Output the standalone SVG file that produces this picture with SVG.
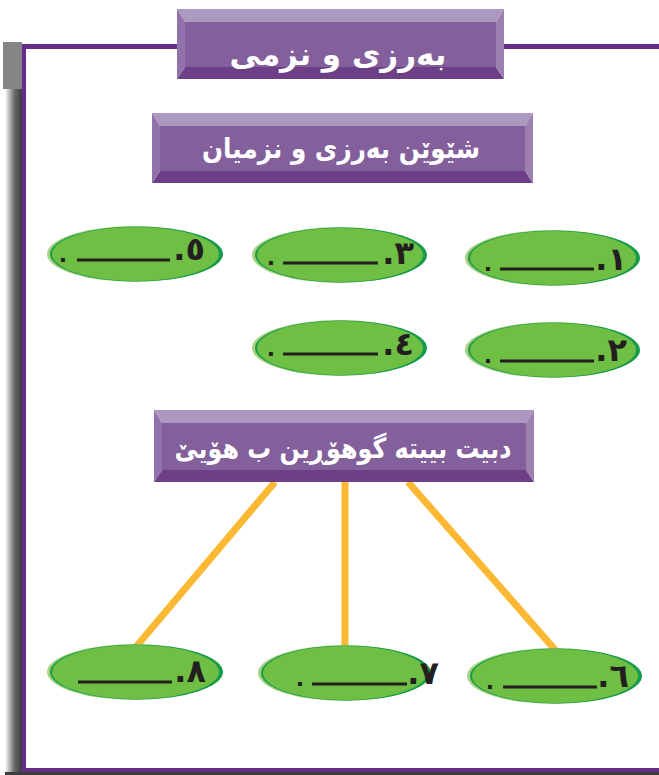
<svg xmlns="http://www.w3.org/2000/svg" width="659" height="775" viewBox="0 0 659 775">
<defs>
<linearGradient id="shadow" x1="0" y1="0" x2="1" y2="0">
<stop offset="0" stop-color="#ffffff"/>
<stop offset="0.55" stop-color="#6a6a6a"/>
<stop offset="1" stop-color="#3c3c3c"/>
</linearGradient>
</defs>
<style>
.title{font-family:"DejaVu Sans",sans-serif;font-weight:bold;fill:#ffffff;text-anchor:middle;direction:rtl}
.num{font-family:"DejaVu Sans",sans-serif;font-weight:bold;fill:#231f20;font-size:32px;direction:rtl;text-anchor:start}
.dot{font-family:"DejaVu Sans",sans-serif;font-weight:bold;fill:#231f20;font-size:22px;text-anchor:middle}
.blank{stroke:#231f20;stroke-width:3.2}
.bt{fill:#ad98c0}.bm{fill:#835f9c}.bb{fill:#6c3f86}.bl{fill:#9272aa}.br{fill:#9b80b0}
.e1{fill:#a7d281}.e2{fill:#159b49}.e3{fill:#6fbf45}
.conn{stroke:#fbb832;stroke-width:7;fill:none}
.frame{fill:#662d8b}
</style>
<g id="frame">
<rect x="5" y="88" width="17" height="687" fill="url(#shadow)"/>
<rect x="5" y="772" width="654" height="3" fill="#3c3c3c"/>
<rect x="3" y="42" width="19" height="47" fill="#858585"/>
<rect class="frame" x="22" y="44" width="637" height="5"/>
<rect class="frame" x="22" y="44" width="4" height="728"/>
<rect class="frame" x="22" y="768" width="637" height="4"/>
</g>
<g id="connectors">
<line class="conn" x1="275" y1="482" x2="135" y2="648"/>
<line class="conn" x1="345" y1="482" x2="345" y2="648"/>
<line class="conn" x1="408" y1="482" x2="557" y2="652"/>
</g>
<g id="title-main">
<polygon class="bt" points="177,9 504,9 496,22 185,22"/>
<polygon class="bb" points="177,79 504,79 496,67 185,67"/>
<polygon class="bl" points="177,9 185,22 185,67 177,79"/>
<polygon class="br" points="504,9 496,22 496,67 504,79"/>
<rect class="bm" x="185" y="22" width="311" height="45"/>
<text class="title" x="338" y="65" font-size="31">بەرزی  و نزمی</text>
</g>
<g id="title-types">
<polygon class="bt" points="152,113 533,113 525,126 160,126"/>
<polygon class="bb" points="152,183 533,183 525,171 160,171"/>
<polygon class="bl" points="152,113 160,126 160,171 152,183"/>
<polygon class="br" points="533,113 525,126 525,171 533,183"/>
<rect class="bm" x="160" y="126" width="365" height="45"/>
<text class="title" x="341" y="158" font-size="28" textLength="278" lengthAdjust="spacingAndGlyphs">شێوێن بەرزی و نزمیان</text>
</g>
<g id="title-change">
<polygon class="bt" points="154,410 534,410 526,423 162,423"/>
<polygon class="bb" points="154,482 534,482 526,470 162,470"/>
<polygon class="bl" points="154,410 162,423 162,470 154,482"/>
<polygon class="br" points="534,410 526,423 526,470 534,482"/>
<rect class="bm" x="162" y="423" width="364" height="47"/>
<text class="title" x="343" y="458" font-size="28" textLength="337" lengthAdjust="spacingAndGlyphs">دبیت بییتە گوهۆڕین ب هۆیێ</text>
</g>
<g id="item-1">
<ellipse class="e1" cx="552" cy="258" rx="87" ry="28"/>
<ellipse class="e2" cx="554" cy="258" rx="86" ry="27.5"/>
<ellipse class="e3" cx="553" cy="258" rx="83" ry="27"/>
<text class="num" x="627" y="270">١.</text>
<line class="blank" x1="500" y1="269" x2="594" y2="269"/>
<text class="dot" x="488" y="271">.</text>
</g>
<g id="item-2">
<ellipse class="e1" cx="552" cy="350" rx="87" ry="28"/>
<ellipse class="e2" cx="554" cy="350" rx="86" ry="27.5"/>
<ellipse class="e3" cx="553" cy="350" rx="83" ry="27"/>
<text class="num" x="627" y="361">٢.</text>
<line class="blank" x1="500" y1="361" x2="594" y2="361"/>
<text class="dot" x="488" y="363">.</text>
</g>
<g id="item-3">
<ellipse class="e1" cx="339" cy="255" rx="87" ry="28"/>
<ellipse class="e2" cx="341" cy="255" rx="86" ry="27.5"/>
<ellipse class="e3" cx="340" cy="255" rx="83" ry="27"/>
<text class="num" x="414" y="264">٣.</text>
<line class="blank" x1="283" y1="263" x2="378" y2="263"/>
<text class="dot" x="271" y="265">.</text>
</g>
<g id="item-4">
<ellipse class="e1" cx="339" cy="348" rx="87" ry="28"/>
<ellipse class="e2" cx="341" cy="348" rx="86" ry="27.5"/>
<ellipse class="e3" cx="340" cy="348" rx="83" ry="27"/>
<text class="num" x="414" y="355">٤.</text>
<line class="blank" x1="283" y1="354" x2="378" y2="354"/>
<text class="dot" x="271" y="356">.</text>
</g>
<g id="item-5">
<ellipse class="e1" cx="134.5" cy="254" rx="87.5" ry="28"/>
<ellipse class="e2" cx="136.5" cy="254" rx="86.5" ry="27.5"/>
<ellipse class="e3" cx="135.5" cy="254" rx="83.5" ry="27"/>
<text class="num" x="205" y="260">٥.</text>
<line class="blank" x1="77" y1="260" x2="170" y2="260"/>
<text class="dot" x="63" y="262">.</text>
</g>
<g id="item-6">
<ellipse class="e1" cx="554" cy="676" rx="87" ry="28"/>
<ellipse class="e2" cx="556" cy="676" rx="86" ry="27.5"/>
<ellipse class="e3" cx="555" cy="676" rx="83" ry="27"/>
<text class="num" x="629" y="687">٦.</text>
<line class="blank" x1="503" y1="687" x2="597" y2="687"/>
<text class="dot" x="490" y="689">.</text>
</g>
<g id="item-7">
<ellipse class="e1" cx="344" cy="673" rx="86" ry="28"/>
<ellipse class="e2" cx="346" cy="673" rx="85" ry="27.5"/>
<ellipse class="e3" cx="345" cy="673" rx="82" ry="27"/>
<text class="num" x="439" y="684">٧.</text>
<line class="blank" x1="312" y1="684" x2="407" y2="684"/>
<text class="dot" x="300" y="686">.</text>
</g>
<g id="item-8">
<ellipse class="e1" cx="134.5" cy="672" rx="87.5" ry="28"/>
<ellipse class="e2" cx="136.5" cy="672" rx="86.5" ry="27.5"/>
<ellipse class="e3" cx="135.5" cy="672" rx="83.5" ry="27"/>
<text class="num" x="206" y="682">٨.</text>
<line class="blank" x1="78" y1="682" x2="172" y2="682"/>
</g>
</svg>
